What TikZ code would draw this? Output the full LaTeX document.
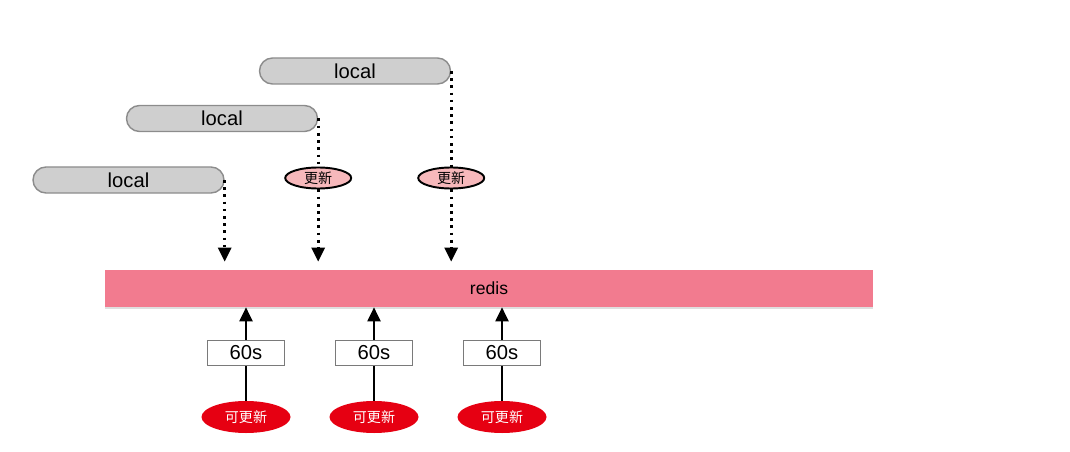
\documentclass[tikz,border=0pt]{standalone}
\usepackage{fontspec}
\setmainfont{Liberation Sans}
\newfontfamily\cjk{Noto Sans CJK SC}
\usetikzlibrary{arrows.meta,positioning,calc,shapes.geometric,shadows}
\definecolor{pillgray}{HTML}{CFCFCF}
\definecolor{pillline}{HTML}{8C8C8C}
\definecolor{updpink}{HTML}{F7B8BB}
\definecolor{barpink}{HTML}{F27B8F}
\definecolor{hotred}{HTML}{E60012}
\definecolor{boxline}{HTML}{7A7A7A}

\begin{document}
\begin{tikzpicture}[
    pill/.style={draw=pillline, line width=0.8pt, fill=pillgray, rounded corners=0.26cm, minimum width=3.82cm, minimum height=0.52cm, inner sep=0pt, font=\fontsize{11.5}{13}\selectfont},
    upd/.style={draw=black, line width=1.1pt, fill=updpink, ellipse, minimum width=1.32cm, minimum height=0.42cm, inner sep=0pt, font=\cjk\fontsize{8}{10}\selectfont},
    bar/.style={fill=barpink, minimum width=15.36cm, minimum height=0.74cm, inner sep=0pt, font=\fontsize{10}{12}\selectfont, drop shadow={shadow xshift=0pt, shadow yshift=-1.2pt, opacity=0.25}},
    secbox/.style={draw=boxline, line width=0.6pt, fill=white, minimum width=1.54cm, minimum height=0.5cm, inner sep=0pt, font=\fontsize{11.5}{13}\selectfont},
    hot/.style={fill=hotred, ellipse, minimum width=1.78cm, minimum height=0.64cm, inner sep=0pt, text=white, font=\cjk\fontsize{8}{10}\selectfont},
    dots/.style={-{Triangle[length=8pt, width=7.5pt]}, line width=1.5pt, dash pattern=on 1.5pt off 2.6pt},
    push/.style={-{Triangle[length=8pt, width=7.5pt]}, line width=1pt},
  ]
\useasboundingbox (0,0) rectangle (21.4,-9.04);

% --- Local caches ------------------------------------------------------------
\node[pill] (local1) at (7.10,-1.42) {local};
\node[pill] (local2) at (4.44,-2.37) {local};
\node[pill] (local3) at (2.57,-3.60) {local};
\node[upd] (upd1) at ($(local2.east)+(0,-1.19)$) {更新};
\node[upd] (upd2) at ($(local1.east)+(0,-2.14)$) {更新};

% --- Redis and the timers ----------------------------------------------------
\node[bar] (redis) at (9.78,-5.77) {redis};
\foreach \i/\x in {1/4.92, 2/7.48, 3/10.04} {
  \node[secbox] (tick\i) at (\x,-7.06) {60s};
  \node[hot] (ok\i) at (\x,-8.34) {可更新};
  \draw[push] (tick\i.north) -- (tick\i.north |- redis.south);
  \draw[line width=1pt] (ok\i.north) -- (tick\i.south);
}

% --- Dotted writes -------------------------------------------------------------
\draw[dots, shorten >=0.16cm] (local3.east) -- (local3.east |- redis.north);
\draw[dots, -] (local2.east) -- (upd1.north);
\draw[dots, shorten >=0.16cm] (upd1.south) -- (upd1.south |- redis.north);
\draw[dots, -] (local1.east) -- (upd2.north);
\draw[dots, shorten >=0.16cm] (upd2.south) -- (upd2.south |- redis.north);
\end{tikzpicture}
\end{document}
